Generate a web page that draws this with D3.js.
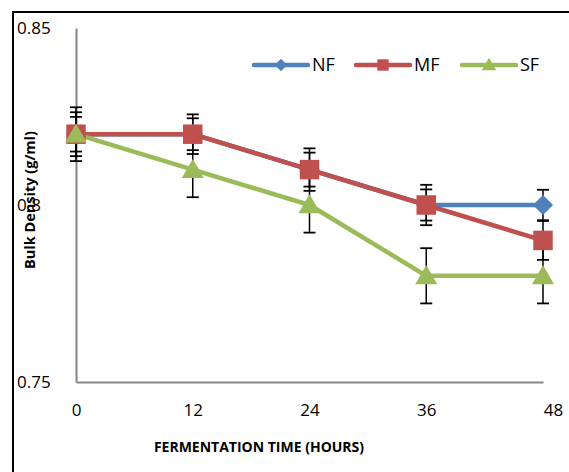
<!DOCTYPE html>
<html>
<head>
<meta charset="utf-8">
<script src="https://cdnjs.cloudflare.com/ajax/libs/d3/7.8.5/d3.min.js"></script>
<style>
  body { margin: 0; background: #fff; }
  text { font-family: "Open Sans", "Noto Sans", sans-serif; }
</style>
</head>
<body>
<div id="chart"></div>
<script>
// data
const hours = [0, 12, 24, 36, 48];
const xTickLabels = ["0", "12", "24", "36", "48"];
const yTickValues = [0.75, 0.8, 0.85];
const yTickLabels = ["0.75", "0.8", "0.85"];

const nfValues = [0.82, 0.82, 0.81, 0.80, 0.80];
const mfValues = [0.82, 0.82, 0.81, 0.80, 0.79];
const sfValues = [0.82, 0.81, 0.80, 0.78, 0.78];

const nfErrors = [0.0049, 0.0045, 0.0048, 0.0044, 0.0043];
const mfErrors = [0.0062, 0.0056, 0.0060, 0.0057, 0.0055];
const sfErrors = [0.0076, 0.0078, 0.0078, 0.0078, 0.0078];

const seriesNames = ["NF", "MF", "SF"];
const seriesColours = ["#4F81BD", "#C0504D", "#9BBB59"];
const seriesShapes = ["diamond", "square", "triangle"];

const width = 569, height = 472;

const svg = d3.select("#chart").append("svg")
    .attr("width", width)
    .attr("height", height);

// outer frame
svg.append("rect")
    .attr("x", 13).attr("y", 12)
    .attr("width", 600).attr("height", 500)
    .attr("fill", "none")
    .attr("stroke", "#000")
    .attr("stroke-width", 2);

const x = d3.scaleLinear().domain([0, 48]).range([76, 543]);
const y = d3.scaleLinear().domain([0.75, 0.85]).range([382, 28]);

// axes
const xAxisGroup = svg.append("g")
    .attr("transform", `translate(0, ${y(0.75)})`)
    .call(d3.axisBottom(x).tickValues(hours).tickSize(0).tickPadding(22)
        .tickFormat((d, i) => xTickLabels[i]));
xAxisGroup.select(".domain").attr("stroke", "#868686").attr("stroke-width", 2);
xAxisGroup.selectAll("text")
    .attr("font-size", 17).attr("fill", "#000")
    .attr("font-family", "Open Sans")
    .attr("dy", "0.71em")
    .attr("dx", (d, i) => i === hours.length - 1 ? 10 : 0);

const yAxisGroup = svg.append("g")
    .attr("transform", `translate(${x(0)}, 0)`)
    .call(d3.axisLeft(y).tickValues(yTickValues).tickSize(0)
        .tickFormat((d, i) => yTickLabels[i]));
yAxisGroup.select(".domain").attr("stroke", "#868686").attr("stroke-width", 2);
yAxisGroup.selectAll("text")
    .attr("font-size", 17).attr("fill", "#000")
    .attr("font-family", "Open Sans")
    .attr("text-anchor", "start")
    .attr("x", 17 - x(0));

// axis titles
svg.append("text")
    .attr("x", 259).attr("y", 452)
    .attr("text-anchor", "middle")
    .attr("font-size", 14).attr("font-weight", "bold")
    .text("FERMENTATION TIME (HOURS)");

svg.append("text")
    .attr("transform", "translate(35, 200) rotate(-90)")
    .attr("text-anchor", "middle")
    .attr("font-size", 14.5).attr("font-weight", "bold")
    .text("Bulk Density (g/ml)");

const allValues = [nfValues, mfValues, sfValues];
const allErrors = [nfErrors, mfErrors, sfErrors];

const symbolFor = {
    diamond: d3.symbol().type(d3.symbolDiamond2).size(260),
    square: d3.symbol().type(d3.symbolSquare).size(380),
    triangle: d3.symbol().type(d3.symbolTriangle).size(210)
};

const line = d3.line()
    .x(d => x(d.h))
    .y(d => y(d.v));

const seriesData = seriesNames.map((name, s) => ({
    name,
    colour: seriesColours[s],
    shape: seriesShapes[s],
    points: hours.map((h, i) => ({ h, v: allValues[s][i], e: allErrors[s][i] }))
}));

// lines
seriesData.forEach(sd => {
    svg.append("path")
        .datum(sd.points)
        .attr("d", line)
        .attr("fill", "none")
        .attr("stroke", sd.colour)
        .attr("stroke-width", 4.5)
        .attr("stroke-linejoin", "round");
});

// error bars
seriesData.forEach(sd => {
    const eb = svg.append("g").selectAll("g").data(sd.points).enter().append("g");
    eb.append("line")
        .attr("x1", d => x(d.h)).attr("x2", d => x(d.h))
        .attr("y1", d => y(d.v - d.e)).attr("y2", d => y(d.v + d.e))
        .attr("stroke", "#000").attr("stroke-width", 1.5);
    [1, -1].forEach(sign => {
        eb.append("line")
            .attr("x1", d => x(d.h) - 6).attr("x2", d => x(d.h) + 6)
            .attr("y1", d => y(d.v + sign * d.e)).attr("y2", d => y(d.v + sign * d.e))
            .attr("stroke", "#000").attr("stroke-width", 1.8);
    });
});

// markers
seriesData.forEach(sd => {
    svg.append("g").selectAll("path").data(sd.points).enter().append("path")
        .attr("d", symbolFor[sd.shape])
        .attr("transform", d => `translate(${x(d.h)}, ${y(d.v) + (sd.shape === "triangle" ? 2 : 0)})`)
        .attr("fill", sd.colour);
});

// legend
const legendX = [254, 356, 462];
const legendY = 65;
seriesData.forEach((sd, s) => {
    const g = svg.append("g").attr("transform", `translate(${legendX[s]}, ${legendY})`);
    g.append("line")
        .attr("x1", 0).attr("x2", 54)
        .attr("stroke", sd.colour).attr("stroke-width", 4.5)
        .attr("stroke-linecap", "round");
    g.append("path")
        .attr("d", d3.symbol().type(
            sd.shape === "diamond" ? d3.symbolDiamond2 :
            sd.shape === "square" ? d3.symbolSquare : d3.symbolTriangle).size(
            sd.shape === "diamond" ? 100 : sd.shape === "square" ? 130 : 90))
        .attr("transform", `translate(27, ${sd.shape === "triangle" ? 1 : 0})`)
        .attr("fill", sd.colour);
    g.append("text")
        .attr("x", 58).attr("y", 6)
        .attr("font-size", 18)
        .text(sd.name);
});
</script>
</body>
</html>
